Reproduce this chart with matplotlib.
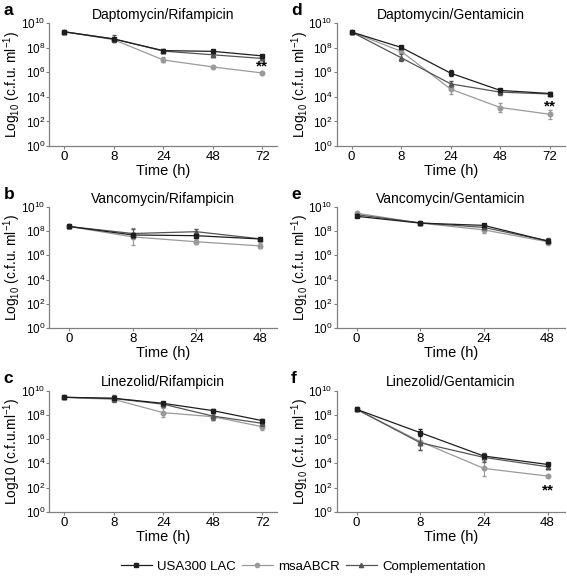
import matplotlib.pyplot as plt
from matplotlib.lines import Line2D

plt.rcParams['font.family'] = ['Liberation Sans', 'DejaVu Sans']
plt.rcParams['mathtext.fontset'] = 'custom'
plt.rcParams['mathtext.rm'] = 'Liberation Sans'
plt.rcParams['mathtext.it'] = 'Liberation Sans:italic'
plt.rcParams['mathtext.bf'] = 'Liberation Sans:bold'

# log10 cfu/ml
hours_72 = ['0', '8', '24', '48', '72']
hours_48 = ['0', '8', '24', '48']

# a: Daptomycin/Rifampicin
dr_usa = [9.29, 8.70, 7.76, 7.70, 7.33]
dr_msa = [9.29, 8.65, 7.00, 6.43, 5.94]
dr_cmp = [9.29, 8.72, 7.72, 7.42, 7.12]
dr_usa_err = [0.08, 0.12, 0.1, 0.12, 0.1]
dr_msa_err = [0.05, 0.15, 0.2, 0.1, 0.08]
dr_cmp_err = [0.05, 0.3, 0.1, 0.1, 0.1]

# d: Daptomycin/Gentamicin
dg_usa = [9.27, 8.02, 5.92, 4.52, 4.27]
dg_msa = [9.27, 7.70, 4.62, 3.13, 2.58]
dg_cmp = [9.27, 7.18, 5.05, 4.38, 4.23]
dg_usa_err = [0.05, 0.12, 0.25, 0.15, 0.1]
dg_msa_err = [0.05, 0.15, 0.35, 0.35, 0.35]
dg_cmp_err = [0.05, 0.3, 0.2, 0.25, 0.1]

# b: Vancomycin/Rifampicin
vr_usa = [8.38, 7.68, 7.62, 7.35]
vr_msa = [8.38, 7.52, 7.12, 6.78]
vr_cmp = [8.38, 7.80, 7.95, 7.36]
vr_usa_err = [0.15, 0.2, 0.15, 0.1]
vr_msa_err = [0.15, 0.7, 0.15, 0.2]
vr_cmp_err = [0.15, 0.35, 0.2, 0.1]

# e: Vancomycin/Gentamicin
vg_usa = [9.22, 8.66, 8.47, 7.18]
vg_msa = [9.48, 8.66, 8.10, 7.12]
vg_cmp = [9.35, 8.68, 8.30, 7.20]
vg_usa_err = [0.08, 0.08, 0.1, 0.2]
vg_msa_err = [0.08, 0.08, 0.25, 0.25]
vg_cmp_err = [0.08, 0.08, 0.15, 0.2]

# c: Linezolid/Rifampicin
lr_usa = [9.45, 9.37, 8.95, 8.35, 7.52]
lr_msa = [9.45, 9.28, 8.18, 7.85, 7.02]
lr_cmp = [9.45, 9.35, 8.88, 7.90, 7.30]
lr_usa_err = [0.05, 0.1, 0.12, 0.1, 0.12]
lr_msa_err = [0.05, 0.1, 0.35, 0.25, 0.3]
lr_cmp_err = [0.05, 0.3, 0.2, 0.3, 0.25]

# f: Linezolid/Gentamicin
lg_usa = [8.46, 6.53, 4.60, 3.91]
lg_msa = [8.46, 5.80, 3.58, 2.95]
lg_cmp = [8.46, 5.70, 4.49, 3.72]
lg_usa_err = [0.05, 0.3, 0.2, 0.1]
lg_msa_err = [0.05, 0.7, 0.6, 0.05]
lg_cmp_err = [0.05, 0.6, 0.4, 0.15]

panels = [
    ('a', 'Daptomycin/Rifampicin', hours_72, dr_usa, dr_msa, dr_cmp,
     dr_usa_err, dr_msa_err, dr_cmp_err, [0.087, 0.747, 0.402, 0.213], (4, 6.45)),
    ('d', 'Daptomycin/Gentamicin', hours_72, dg_usa, dg_msa, dg_cmp,
     dg_usa_err, dg_msa_err, dg_cmp_err, [0.594, 0.747, 0.402, 0.213], (4, 3.25)),
    ('b', 'Vancomycin/Rifampicin', hours_48, vr_usa, vr_msa, vr_cmp,
     vr_usa_err, vr_msa_err, vr_cmp_err, [0.087, 0.4315, 0.402, 0.21], None),
    ('e', 'Vancomycin/Gentamicin', hours_48, vg_usa, vg_msa, vg_cmp,
     vg_usa_err, vg_msa_err, vg_cmp_err, [0.594, 0.4315, 0.402, 0.21], None),
    ('c', 'Linezolid/Rifampicin', hours_72, lr_usa, lr_msa, lr_cmp,
     lr_usa_err, lr_msa_err, lr_cmp_err, [0.087, 0.113, 0.402, 0.21], None),
    ('f', 'Linezolid/Gentamicin', hours_48, lg_usa, lg_msa, lg_cmp,
     lg_usa_err, lg_msa_err, lg_cmp_err, [0.594, 0.113, 0.402, 0.21], (3, 1.75)),
]

c_usa = '#1e1e1e'
c_msa = '#9a9a9a'
c_cmp = '#555555'
axis_col = '#808080'

fig = plt.figure(figsize=(5.67, 5.77), dpi=100)

for letter, title, hours, usa, msa, cmp_, eu, em, ec, rect, star in panels:
    ax = fig.add_axes(rect)
    x = list(range(len(hours)))
    ax.errorbar(x, msa, yerr=em, color=c_msa, marker='o', ms=3.3, lw=0.9,
                capsize=1.5, elinewidth=0.8, zorder=2)
    ax.errorbar(x, cmp_, yerr=ec, color=c_cmp, marker='^', ms=3.3, lw=0.9,
                capsize=1.5, elinewidth=0.8, zorder=3)
    ax.errorbar(x, usa, yerr=eu, color=c_usa, marker='s', ms=3.3, lw=0.9,
                capsize=1.5, elinewidth=0.8, zorder=4)
    n = len(hours)
    if n == 5:
        ax.set_xlim(-0.3, 4.3)
    else:
        ax.set_xlim(-0.31, 3.27)
    ax.set_ylim(0, 10)
    ax.set_xticks(x)
    ax.set_xticklabels(hours)
    ax.set_yticks(range(0, 11, 2))
    ax.set_yticklabels([f'$10^{{{v}}}$' for v in range(0, 11, 2)])
    for s in ['top', 'right']:
        ax.spines[s].set_visible(False)
    for s in ['left', 'bottom']:
        ax.spines[s].set_color(axis_col)
        ax.spines[s].set_linewidth(0.9)
    ax.tick_params(colors=axis_col, labelcolor='black', labelsize=9.5,
                   length=2, width=0.8, pad=1.5)
    ax.tick_params(axis='y', labelsize=8.5, pad=1)
    ax.set_xlabel('Time (h)', fontsize=10.5, labelpad=1)
    if letter == 'c':
        ax.set_ylabel('Log10 (c.f.u.ml$^{-1}$)', fontsize=9.8, labelpad=-1.5)
    else:
        ax.set_ylabel('Log$_{10}$ (c.f.u. ml$^{-1}$)', fontsize=9.8, labelpad=-1.5)
    ax.set_title(title, fontsize=10, pad=3)
    ax.text(-0.2, 1.1, letter, transform=ax.transAxes, fontsize=12.5,
            fontweight='bold', va='center', ha='left')
    if star is not None:
        ax.text(star[0], star[1], '**', ha='center', va='center', fontsize=11,
                fontweight='bold')

handles = [
    Line2D([], [], color=c_usa, marker='s', ms=3, lw=0.9),
    Line2D([], [], color=c_msa, marker='o', ms=3, lw=0.9),
    Line2D([], [], color=c_cmp, marker='^', ms=3, lw=0.9),
]
fig.legend(handles, ['USA300 LAC', 'msaABCR', 'Complementation'],
           loc='center', bbox_to_anchor=(0.535, 0.018), ncol=3, frameon=False,
           fontsize=9.5, handlelength=2.3, columnspacing=0.5, handletextpad=0.4,
           borderpad=0, borderaxespad=0)

fig.savefig('out.png', dpi=100)
